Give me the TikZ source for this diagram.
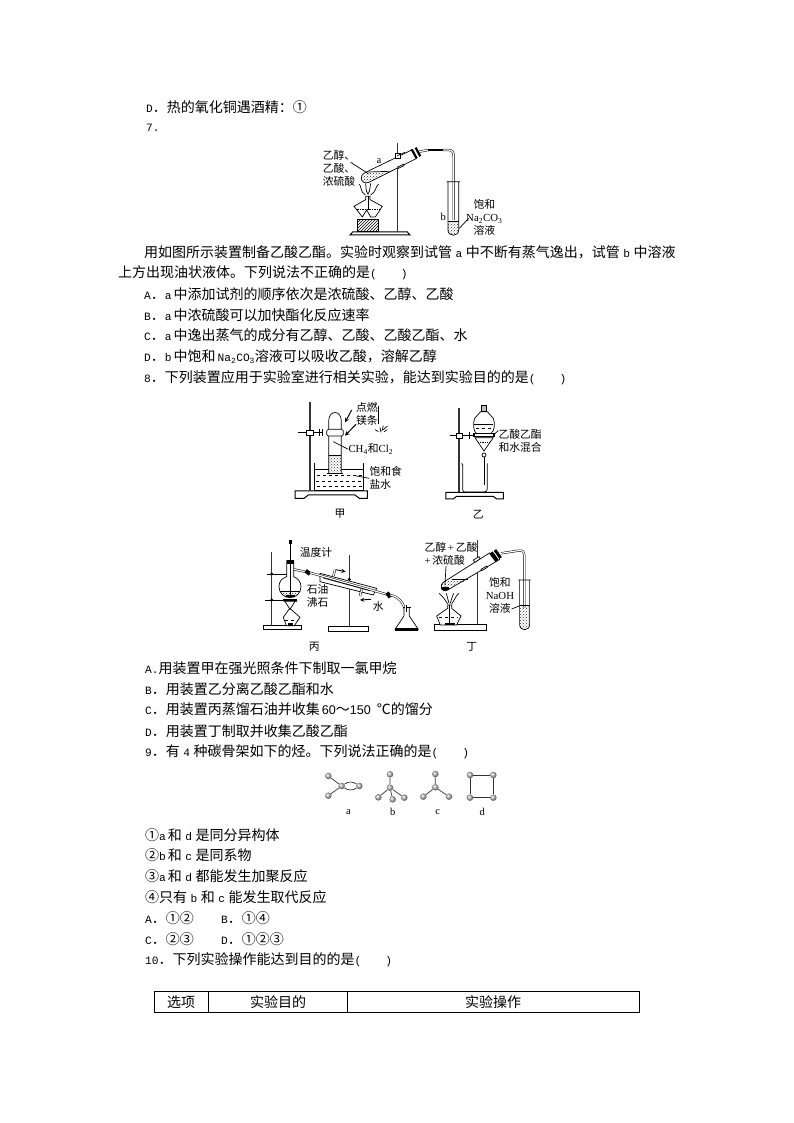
\documentclass[tikz,border=0pt]{standalone}
\usepackage{fontspec}
\newfontfamily\cjk{Noto Sans CJK SC}
\newfontfamily\latn{Liberation Mono}[Scale=0.8]
\newfontfamily\tms{Liberation Serif}
\newfontfamily\ars{Liberation Sans}[Scale=0.9]
\newcommand{\lts}[1]{\hspace{3.5pt}{\latn #1}\hspace{3.5pt}}
\newcommand{\ltn}[1]{{\latn #1}}
\usetikzlibrary{patterns,arrows}

\begin{document}
\begin{tikzpicture}[x=1pt,y=-1pt,>=stealth,
  txtline/.style={anchor=west,inner sep=0pt,text height=10.5pt,text depth=2pt,
  font=\cjk\fontsize{14}{14}\selectfont},
  headcell/.style={inner sep=0pt,font=\cjk\fontsize{14}{14}\selectfont},
  lbl/.style={inner sep=0pt,font=\cjk\fontsize{10.8}{13}\selectfont},
  tag/.style={inner sep=0pt,font=\tms\fontsize{10.5}{12}\selectfont},
  glass/.style={line width=.7pt},
  pipe/.style={line width=.5pt,double,double distance=1.2pt},
  rod/.style={line width=1.3pt,black!80},
  plate/.style={line width=1pt,fill=white},
  plug/.style={line width=2.2pt,black},
  liquid/.style={pattern=crosshatch dots,pattern color=black!80},
  atom/.style={circle,inner sep=0pt,minimum size=6.5pt,ball color=black!25},
  bond/.style={line width=.7pt,black!80}]

  \path[use as bounding box] (0,0) rectangle (794,1123);

  % text of the page
  \node[txtline] (optd) at (146,108) {\ltn{D}．热的氧化铜遇酒精：①};
  \node[txtline] (qseven) at (146,127) {\ltn{7.}};
  \node[txtline] (stemone) at (144,253) {用如图所示装置制备乙酸乙酯。实验时观察到试管\lts{a}中不断有蒸气逸出，试管\lts{b}中溶液};
  \node[txtline] (stemtwo) at (118,273) {上方出现油状液体。下列说法不正确的是\ltn{(}\hspace{24pt}\ltn{)}};
  \node[txtline] (sevena) at (144,295) {\ltn{A}．\ltn{a}\hspace{2pt}中添加试剂的顺序依次是浓硫酸、乙醇、乙酸};
  \node[txtline] (sevenb) at (144,316) {\ltn{B}．\ltn{a}\hspace{2pt}中浓硫酸可以加快酯化反应速率};
  \node[txtline] (sevenc) at (144,336) {\ltn{C}．\ltn{a}\hspace{2pt}中逸出蒸气的成分有乙醇、乙酸、乙酸乙酯、水};
  \node[txtline] (sevend) at (144,357) {\ltn{D}．\ltn{b}\hspace{2pt}中饱和\hspace{2pt}\ltn{Na\textsubscript{2}CO\textsubscript{3}}溶液可以吸收乙酸，溶解乙醇};
  \node[txtline] (qeight) at (144,378) {\ltn{8}．下列装置应用于实验室进行相关实验，能达到实验目的的是\ltn{(}\hspace{24pt}\ltn{)}};
  \node[txtline] (eighta) at (145,669) {\ltn{A.}用装置甲在强光照条件下制取一氯甲烷};
  \node[txtline] (eightb) at (145,690) {\ltn{B}．用装置乙分离乙酸乙酯和水};
  \node[txtline] (eightc) at (145,710) {\ltn{C}．用装置丙蒸馏石油并收集\hspace{2pt}{\ars 60}～{\ars 150\hspace{6pt}}℃的馏分};
  \node[txtline] (eightd) at (145,732) {\ltn{D}．用装置丁制取并收集乙酸乙酯};
  \node[txtline] (qnine) at (145,752) {\ltn{9}．有\lts{4}种碳骨架如下的烃。下列说法正确的是\ltn{(}\hspace{24pt}\ltn{)}};
  \node[txtline] (ninei) at (145,836) {①\ltn{a}\hspace{2pt}和\lts{d}是同分异构体};
  \node[txtline] (nineii) at (145,856) {②\ltn{b}\hspace{2pt}和\lts{c}是同系物};
  \node[txtline] (nineiii) at (145,877) {③\ltn{a}\hspace{2pt}和\lts{d}都能发生加聚反应};
  \node[txtline] (nineiv) at (145,898) {④只有\lts{b}和\lts{c}能发生取代反应};
  \node[txtline] (ninea) at (145,919) {\ltn{A}．①②};
  \node[txtline] (nineb) at (221,919) {\ltn{B}．①④};
  \node[txtline] (ninec) at (145,940) {\ltn{C}．②③};
  \node[txtline] (nined) at (221,940) {\ltn{D}．①②③};
  \node[txtline] (qten) at (145,960) {\ltn{10}．下列实验操作能达到目的的是\ltn{(}\hspace{24pt}\ltn{)}};

  % table head
  \draw[line width=.8pt] (154,991) rectangle (639.5,1012);
  \draw[line width=.8pt] (208,991) -- (208,1012) (347,991) -- (347,1012);
  \node[headcell] (celloption) at (181,1002) {选项};
  \node[headcell] (cellaim) at (278,1002) {实验目的};
  \node[headcell] (cellstep) at (493,1002) {实验操作};

  % ester apparatus of question 7
  \begin{scope}[shift={(300,135)},x=.3333pt,y=-.3333pt]
    \draw[plate] (150,300) -- (158,291) -- (322,291) -- (330,300) -- cycle;
    \draw[rod] (292,25) -- (292,291);
    \draw[glass,pattern=north east lines] (172,253) rectangle (235,290);
    \draw[glass,fill=white] (197,184) -- (197,194) -- (162,214) -- (187,246) -- (200,225)
      -- (212,246) -- (226,246) -- (247,214) -- (210,194) -- (210,184) -- cycle;
    \draw[glass,densely dotted] (170,222) -- (238,222);
    \draw[glass] (204,182) -- (204,225);
    \draw[glass] (196,180) .. controls (180,170) and (185,155) .. (178,147)
      (204,178) .. controls (195,165) and (200,155) .. (197,145)
      (204,178) .. controls (212,165) and (208,155) .. (212,145)
      (212,180) .. controls (230,170) and (225,155) .. (236,147);
    \draw[glass,fill=white] (335,45) -- (197,112) .. controls (175,122) and (180,150) .. (207,142) -- (350,70);
    \fill[liquid] (205,111) -- (268,109) -- (207,142) .. controls (180,150) and (175,122) .. (205,111);
    \draw[glass] (205,111) -- (268,109);
    \draw[plug] (335,43) -- (350,70) (347,38) -- (361,64);
    \draw[glass,fill=white] (285,56) rectangle (302,70);
    \draw[glass] (292,62) -- (315,52);
    \draw[glass,fill=white] (293,96) -- (310,88) -- (312,92) -- (295,100) -- cycle;
    \draw[pipe] (358,50) -- (385,45);
    \draw[pipe] (430,45) -- (445,45) .. controls (458,45) and (461,52) .. (461,65) -- (461,255);
    \draw[line width=2.6pt] (385,45) -- (430,45);
    \fill[liquid] (444,258) -- (476,258) -- (476,285) .. controls (476,306) and (444,306) .. (444,285) -- cycle;
    \draw[glass] (440,140) -- (480,140) (444,140) -- (444,285) .. controls (444,306) and (476,306) .. (476,285) -- (476,140);
    \draw[glass] (444,258) -- (476,258);
    \node[lbl,align=left,anchor=west] (mixseven) at (68,99) {乙醇、\\乙酸、\\浓硫酸};
    \node[tag] (taga) at (237,78) {a};
    \node[tag] (tagb) at (430,245) {b};
    \node[lbl,align=center] (soda) at (553,248) {饱和\\{\tms Na\textsubscript{2}CO\textsubscript{3}}\\溶液};
    \coordinate (mixstart) at (152,82);
    \coordinate (mixend) at (205,116);
    \coordinate (sodaend) at (478,280);
    \coordinate (sodastart) at (506,250);
    \draw[glass] (mixstart) -- (mixend);
    \draw[glass] (sodastart) -- (sodaend);
  \end{scope}

  % methane and separating funnel of question 8
  \begin{scope}[shift={(280,395)},x=.3333pt,y=-.3333pt]
    \draw[plate] (45,288) -- (262,288) -- (262,310) -- (238,310) -- (225,300) -- (85,300)
      -- (72,310) -- (45,310) -- cycle;
    \draw[rod] (90,20) -- (90,288);
    \draw[glass] (55,113) -- (130,113);
    \draw[glass,fill=white] (80,106) rectangle (100,120);
    \draw[line width=1.4pt] (118,102) -- (118,124) (128,102) -- (128,124);
    \draw[glass] (103,203) -- (103,285) -- (250,285) -- (250,203);
    \draw[glass] (103,222) -- (250,222);
    \draw[glass,dashed] (112,240) -- (245,240) (108,258) -- (245,258) (112,274) -- (245,274);
    \fill[white] (146,180) rectangle (184,235);
    \fill[liquid] (146,180) rectangle (184,235);
    \draw[glass] (146,235) -- (146,78) .. controls (146,44) and (184,44) .. (184,78) -- (184,235);
    \draw[glass] (146,180) -- (184,180);
    \draw[line width=1.2pt] (140,236) -- (190,236);
    \draw[glass,fill=white,rounded corners=1.5pt] (140,103) rectangle (190,123);
    \draw[line width=1pt,->] (215,45) -- (195,82);
    \draw[line width=1pt,->] (228,88) -- (195,122);
    \draw[line width=1pt] (297,32) -- (297,88);
    \draw[glass] (285,104) -- (295,110) (300,97) -- (303,112) (310,92) -- (306,108) (322,93) -- (310,104) (322,104) -- (312,110);
    \node[lbl,align=center] (magburn) at (261,56) {点燃\\镁条};
    \node[lbl,anchor=west] (gasmix) at (205,163) {{\tms CH\textsubscript{4}}和{\tms Cl\textsubscript{2}}};
    \node[lbl,align=left,anchor=west] (brine) at (268,250) {饱和食\\盐水};
    \node[lbl] (capjia) at (180,355) {甲};
    \coordinate (gasend) at (160,140);
    \draw[glass] (gasmix.west) -- (gasend);
    \coordinate (brineend) at (225,242);
    \draw[glass] (brine.west) -- (brineend);

    \draw[plate] (498,292) -- (670,292) -- (670,312) -- (650,312) -- (640,304) -- (530,304)
      -- (520,312) -- (498,312) -- cycle;
    \draw[rod] (537,40) -- (537,292);
    \draw[glass] (510,122) -- (580,122);
    \draw[glass,fill=white] (528,115) rectangle (546,129);
    \draw[line width=1.4pt] (568,112) -- (568,132);
    \draw[glass] (545,205) -- (548,210) -- (548,285) .. controls (548,290) and (552,291) .. (556,291)
      -- (612,291) .. controls (620,291) and (622,288) .. (622,280) -- (622,205);
    \draw[glass] (612,178) -- (612,270);
    \draw[glass,fill=white] (602,50) -- (584,70) .. controls (578,85) and (580,110) .. (590,116)
      -- (632,116) .. controls (644,110) and (646,85) .. (640,70) -- (622,50) -- cycle;
    \draw[glass,fill=black!25] (604,32) rectangle (620,50);
    \draw[glass] (583,88) -- (640,88);
    \draw[glass,dashed] (588,100) -- (636,100);
    \draw[line width=1.2pt,fill=white] (582,116) rectangle (642,124);
    \draw[glass] (585,128) -- (612,168) -- (640,128) -- cycle;
    \draw[glass,densely dotted] (595,143) -- (630,143);
    \draw[glass,fill=white] (612,180) circle[radius=6];
    \node[lbl,align=left,anchor=west] (estermix) at (655,137) {乙酸乙酯\\和水混合};
    \node[lbl] (capyi) at (595,358) {乙};
    \coordinate (esterend) at (640,120);
    \draw[glass] (estermix.north west) ++(0,5) -- (esterend);
  \end{scope}

  % distillation and ester apparatus of question 8
  \begin{scope}[shift={(255,530)},x=.3333pt,y=-.3333pt]
    \draw[plate] (25,288) -- (140,288) -- (140,300) -- (25,300) -- cycle;
    \draw[rod] (50,65) -- (50,288);
    \draw[glass] (35,132) -- (95,132) (30,210) -- (125,210);
    \fill (50,132) circle[radius=5] (50,210) circle[radius=5];
    \draw[glass,fill=white] (95,92) -- (95,140) .. controls (80,145) and (72,155) .. (72,170)
      .. controls (72,190) and (88,203) .. (105,203) .. controls (122,203) and (138,190) .. (138,170)
      .. controls (138,155) and (128,145) .. (116,140) -- (116,92) -- cycle;
    \draw[glass] (106,30) -- (106,200);
    \fill[liquid] (75,183) -- (135,183) .. controls (128,195) and (118,203) .. (105,203)
      .. controls (92,203) and (82,195) .. (75,183);
    \draw[glass] (75,183) -- (135,183);
    \fill (92,196) rectangle (120,202);
    \draw[line width=2pt] (95,92) -- (116,92) (95,100) -- (116,100);
    \draw[glass] (103,30) -- (103,42) (109,30) -- (109,42);
    \draw[line width=1.6pt] (85,210) -- (127,210);
    \draw[glass] (85,214) -- (127,214) (90,214) -- (105,238) -- (120,214);
    \draw[glass,fill=white] (102,238) -- (85,262) -- (94,287) -- (118,287) -- (135,262) -- (108,238) -- cycle;
    \draw[glass,dashed] (90,270) -- (128,270);
    \fill (98,280) rectangle (115,287);
    \draw[rod] (283,75) -- (283,290);
    \draw[plate] (220,290) -- (340,290) -- (340,305) -- (220,305) -- cycle;
    \fill (283,148) circle[radius=5];
    \draw[pipe] (116,118) -- (150,125);
    \draw[plug,line width=4pt] (152,122) -- (165,132);
    \draw[glass,fill=white] (195,130) -- (365,175) -- (355,195) -- (195,155) -- cycle;
    \draw[pipe] (165,128) -- (395,193);
    \draw[glass] (205,144) -- (345,182);
    \draw[plug,line width=4pt] (396,188) -- (406,202);
    \draw[pipe] (406,195) .. controls (430,200) and (445,215) .. (452,246);
    \draw[pipe] (235,138) -- (240,120);
    \draw[pipe] (320,178) -- (315,198);
    \draw[line width=.9pt,->] (242,119) -- (272,125);
    \draw[line width=.9pt,->] (348,208) -- (315,210);
    \draw[glass,fill=white] (447,232) -- (447,258) -- (420,298) -- (490,298) -- (463,258) -- (463,232);
    \draw[glass] (443,232) -- (467,232);
    \fill (421,293) rectangle (490,303);
    \draw[pipe] (452,225) -- (452,246);
    \node[lbl] (thermo) at (183,68) {温度计};
    \node[lbl,anchor=west] (petrol) at (155,178) {石油};
    \node[lbl,anchor=west] (stones) at (155,218) {沸石};
    \node[lbl] (water) at (370,228) {水};
    \node[lbl] (capbing) at (178,350) {丙};

    \draw[plate] (540,285) -- (695,285) -- (695,302) -- (540,302) -- cycle;
    \draw[rod] (668,30) -- (668,285);
    \draw[glass,fill=white] (578,225) -- (578,235) -- (545,258) -- (556,285) -- (605,285) -- (618,258) -- (590,235) -- (590,225) -- cycle;
    \draw[glass,dashed] (553,262) -- (610,262);
    \draw[line width=1pt] (584,225) -- (584,285);
    \fill (570,280) rectangle (600,285);
    \draw[glass] (578,222) .. controls (570,210) and (565,200) .. (552,190)
      (582,220) .. controls (578,210) and (578,200) .. (574,190)
      (586,220) .. controls (590,210) and (590,200) .. (596,190)
      (590,222) .. controls (598,212) and (600,200) .. (612,190);
    \draw[glass,fill=white] (705,68) -- (568,155) .. controls (550,165) and (560,190) .. (578,180) -- (735,88);
    \fill[liquid] (590,148) -- (640,148) -- (578,180) .. controls (560,190) and (550,165) .. (568,155) -- cycle;
    \draw[glass] (590,148) -- (640,148);
    \fill (571,176) ellipse[x radius=13,y radius=6];
    \draw[plug,line width=4pt] (708,68) -- (726,92);
    \draw[plug,line width=3pt] (720,60) -- (737,84);
    \draw[glass,fill=white] (655,90) -- (672,80) -- (676,86) -- (659,97) -- cycle;
    \draw[glass,fill=white] (678,118) -- (695,108) -- (697,112) -- (680,122) -- cycle;
    \draw[pipe] (738,70) -- (790,62) .. controls (803,60) and (808,65) .. (808,78) -- (808,232);
    \fill[liquid] (794,225) -- (824,225) -- (824,284) .. controls (824,304) and (794,304) .. (794,284) -- cycle;
    \draw[glass] (790,150) -- (827,150) (794,150) -- (794,284) .. controls (794,304) and (824,304) .. (824,284) -- (824,150);
    \draw[glass] (794,225) -- (824,225);
    \node[lbl,align=left,anchor=west] (mixding) at (508,71) {乙醇{\tms\,+\,}乙酸\\{\tms +\,}浓硫酸};
    \node[lbl,align=center] (lye) at (735,195) {饱和\\{\tms NaOH}\\溶液};
    \node[lbl] (capding) at (650,352) {丁};
    \coordinate (mixdingstart) at (573,108);
    \coordinate (mixdingend) at (570,165);
    \draw[glass] (mixdingstart) -- (mixdingend);
    \coordinate (lyestart) at (770,237);
    \coordinate (lyeend) at (800,225);
    \draw[glass] (lyestart) -- (lyeend);
  \end{scope}

  % carbon skeletons of question 9
  \begin{scope}[shift={(310,760)},x=.3333pt,y=-.3333pt]
    \node[atom] (acore) at (95,78) {};
    \node[atom] (aup) at (55,48) {};
    \node[atom] (alow) at (55,107) {};
    \node[atom] (aright) at (148,78) {};
    \draw[bond] (acore) -- (aup) (acore) -- (alow);
    \draw[bond] (acore) to[bend left=35] (aright);
    \draw[bond] (acore) to[bend right=35] (aright);
    \node[atom] (bcore) at (240,83) {};
    \node[atom] (bup) at (240,43) {};
    \node[atom] (bleft) at (205,112) {};
    \node[atom] (bmid) at (248,118) {};
    \node[atom] (bright) at (283,113) {};
    \draw[bond] (bcore) -- (bup) (bcore) -- (bleft) (bcore) -- (bmid) (bcore) -- (bright);
    \node[atom] (ccore) at (376,82) {};
    \node[atom] (cup) at (376,42) {};
    \node[atom] (cleft) at (340,110) {};
    \node[atom] (cright) at (417,110) {};
    \draw[bond] (ccore) -- (cup) (ccore) -- (cleft) (ccore) -- (cright);
    \node[atom] (dtl) at (480,45) {};
    \node[atom] (dtr) at (550,45) {};
    \node[atom] (dbl) at (480,113) {};
    \node[atom] (dbr) at (550,113) {};
    \draw[bond,line width=.9pt] (dtl) -- (dtr) -- (dbr) -- (dbl) -- (dtl);
    \node[tag] (capa) at (115,155) {a};
    \node[tag] (capb) at (248,155) {b};
    \node[tag] (capc) at (383,155) {c};
    \node[tag] (capd) at (517,155) {d};
  \end{scope}
\end{tikzpicture}
\end{document}
